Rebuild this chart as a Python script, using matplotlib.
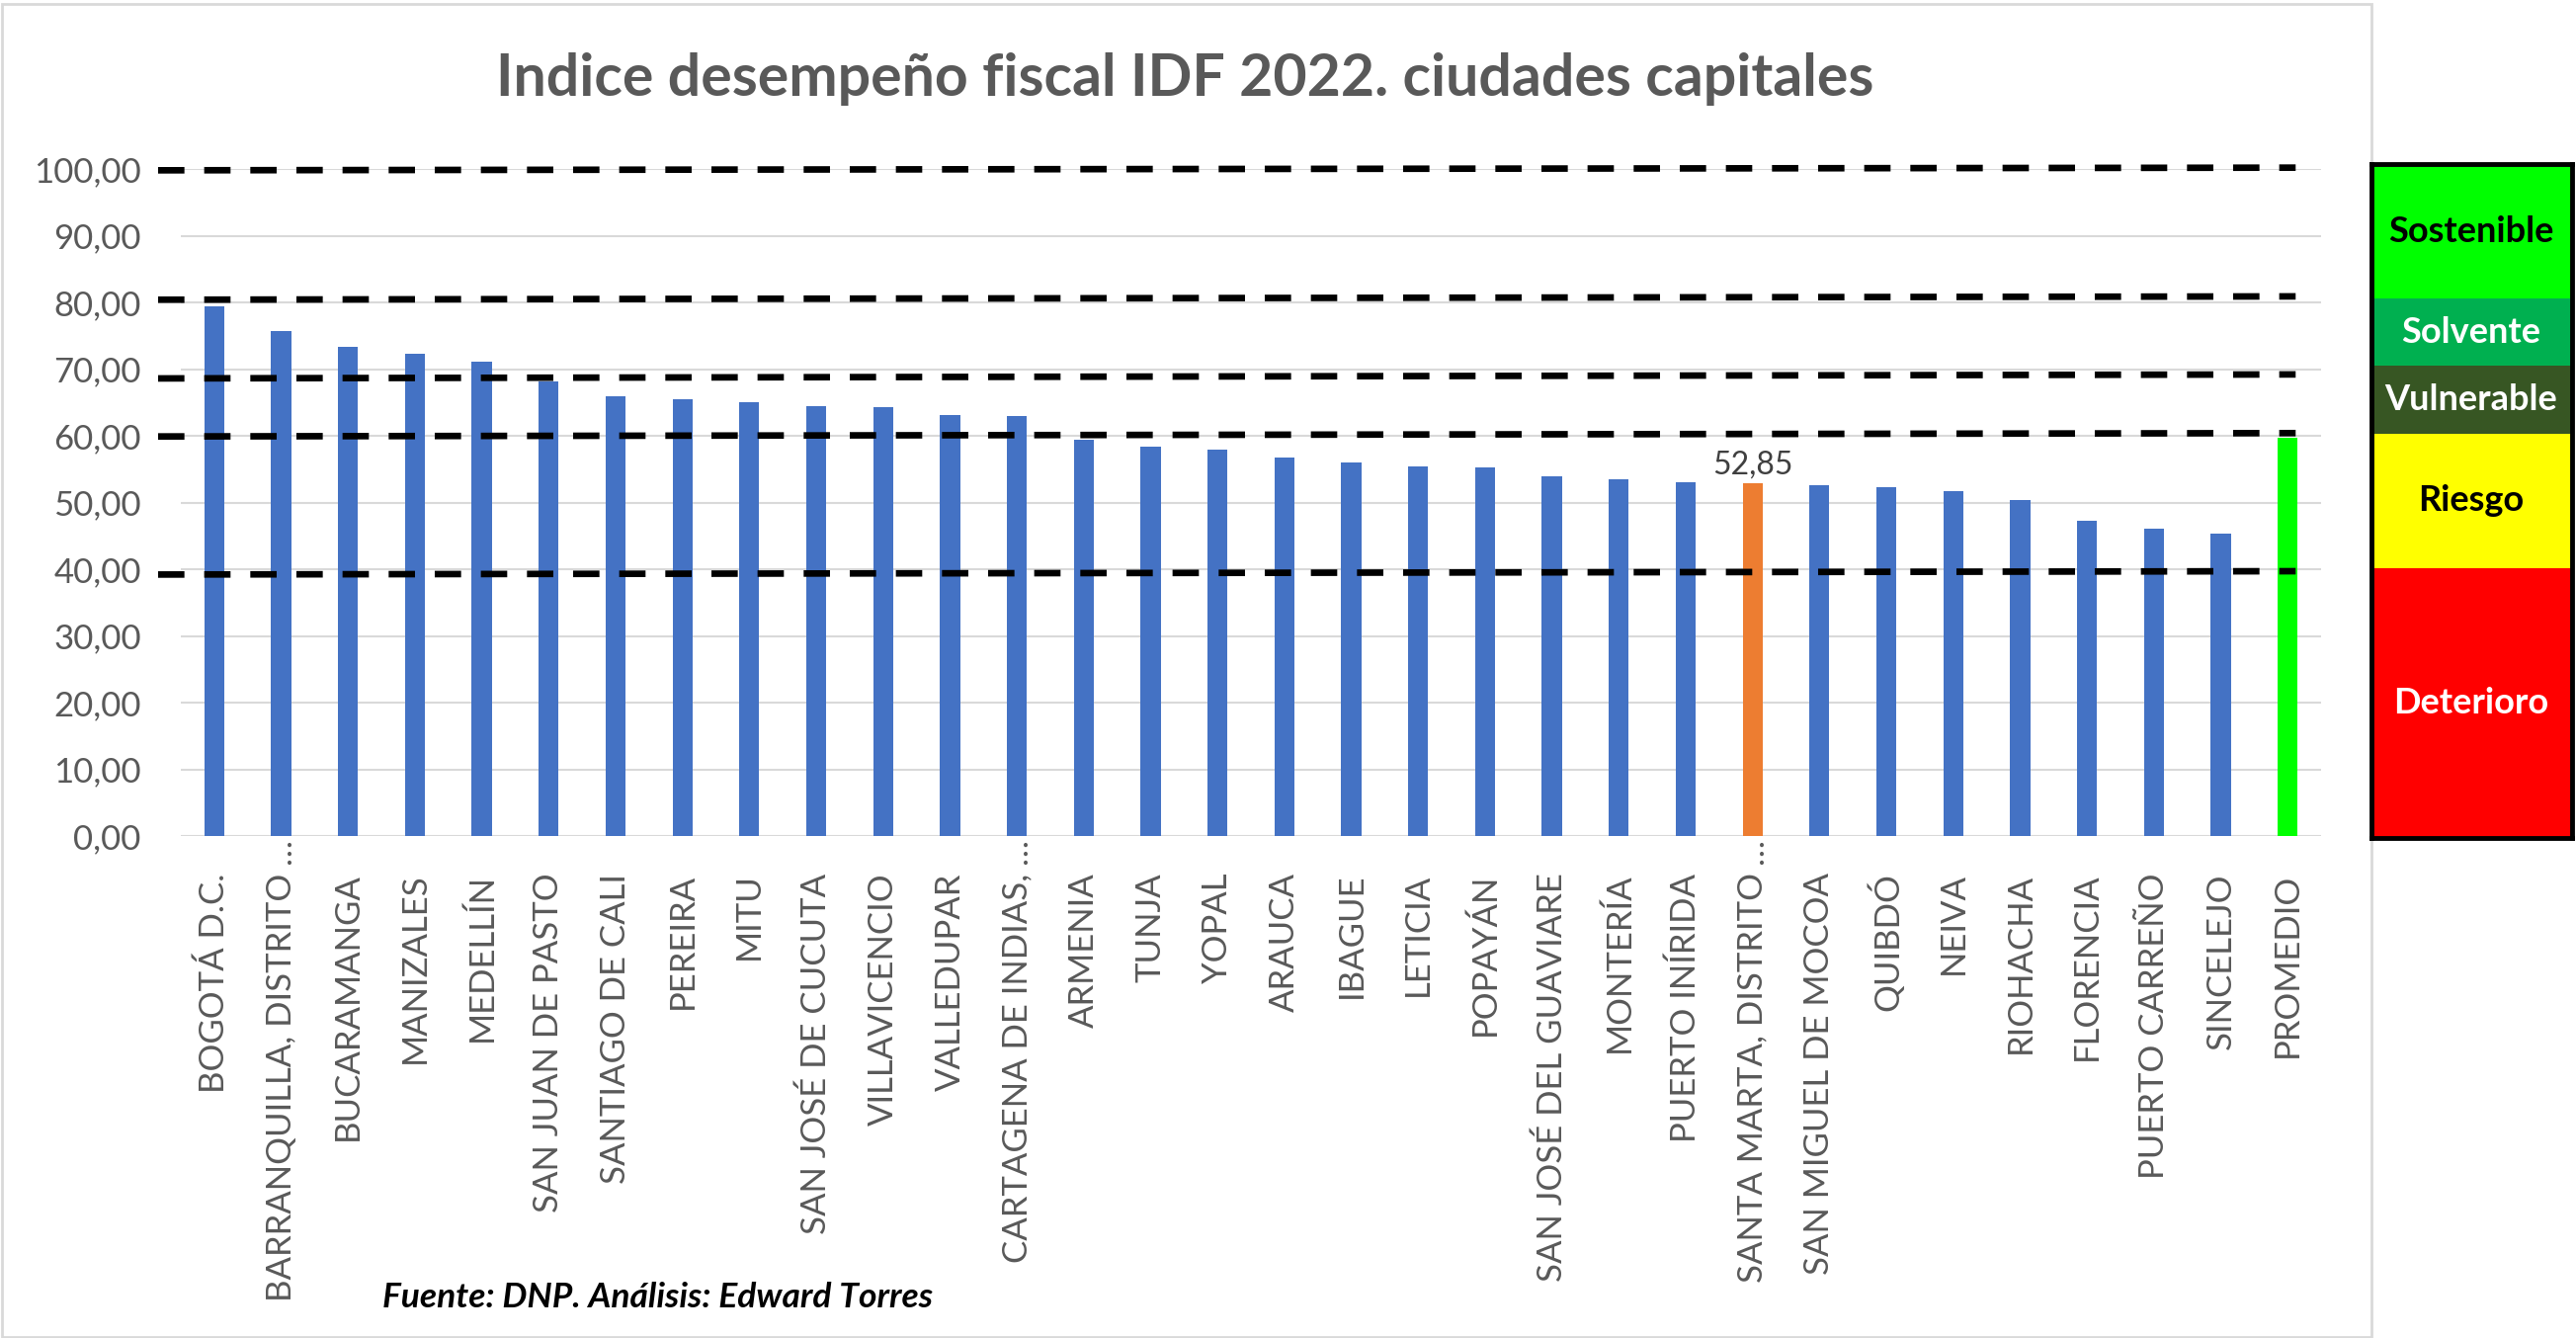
import matplotlib.pyplot as plt
from matplotlib.patches import Rectangle
from matplotlib.ticker import FuncFormatter
import numpy as np

plt.rcParams['font.family'] = ['Lato', 'DejaVu Sans']

ciudades = ['BOGOTÁ D.C.', 'BARRANQUILLA, DISTRITO…', 'BUCARAMANGA', 'MANIZALES',
            'MEDELLÍN', 'SAN JUAN DE PASTO', 'SANTIAGO DE CALI', 'PEREIRA', 'MITU',
            'SAN JOSÉ DE CUCUTA', 'VILLAVICENCIO', 'VALLEDUPAR', 'CARTAGENA DE INDIAS,…',
            'ARMENIA', 'TUNJA', 'YOPAL', 'ARAUCA', 'IBAGUE', 'LETICIA', 'POPAYÁN',
            'SAN JOSÉ DEL GUAVIARE', 'MONTERÍA', 'PUERTO INÍRIDA', 'SANTA MARTA, DISTRITO…',
            'SAN MIGUEL DE MOCOA', 'QUIBDÓ', 'NEIVA', 'RIOHACHA', 'FLORENCIA',
            'PUERTO CARREÑO', 'SINCELEJO', 'PROMEDIO']
idf = [79.4, 75.7, 73.3, 72.3, 71.1, 68.2, 65.9, 65.5, 65.0, 64.4, 64.3, 63.1, 63.0,
       59.4, 58.4, 57.9, 56.8, 56.0, 55.4, 55.3, 53.9, 53.5, 53.1, 52.85, 52.6, 52.3,
       51.7, 50.4, 47.2, 46.1, 45.4, 59.7]
destacada = 'SANTA MARTA, DISTRITO…'
promedio = 'PROMEDIO'

# lineas de referencia (dibujadas a mano en el original, algo inclinadas)
umbral_izq = [99.8, 80.4, 68.6, 59.9, 39.2]
umbral_der = [100.2, 80.9, 69.2, 60.4, 39.7]

rangos = ['Deterioro', 'Riesgo', 'Vulnerable', 'Solvente', 'Sostenible']
limites = [0, 40, 60, 70, 80, 100]
color_rango = ['#FF0000', '#FFFF00', '#375623', '#00B050', '#00FF00']
texto_rango = ['white', 'black', 'white', 'white', 'black']

GRIS = '#595959'
W, H = 2607, 1354

fig = plt.figure(figsize=(W / 100, H / 100), dpi=100)
fig.add_artist(Rectangle((1.5 / W, 1.5 / H), 2398.5 / W, 1349 / H, transform=fig.transFigure,
                         fill=False, ec='#D9D9D9', lw=2))

ax = fig.add_axes([183 / W, 1 - 846 / H, 2166 / W, 675 / H])
x = np.arange(len(ciudades))
colores = ['#ED7D31' if c == destacada else '#00FF00' if c == promedio else '#4472C4'
           for c in ciudades]
ax.bar(x, idf, width=0.3, color=colores, zorder=2)

ax.set_xlim(-0.5, len(ciudades) - 0.5)
ax.set_ylim(0, 100)
ax.set_yticks(np.arange(0, 101, 10))
ax.yaxis.set_major_formatter(FuncFormatter(lambda v, _: f'{v:.2f}'.replace('.', ',')))
ax.grid(axis='y', color='#D9D9D9', lw=1.5, zorder=0)
for s in ax.spines.values():
    s.set_visible(False)
ax.tick_params(axis='both', length=0, colors=GRIS, labelsize=25)
ax.tick_params(axis='y', pad=29)
ax.tick_params(axis='x', pad=27)
ax.set_xticks(x)
ax.set_xticklabels([c.rstrip('…') for c in ciudades], rotation=90, ha='center', va='top')
for i, c in enumerate(ciudades):
    if c.endswith('…'):
        ax.annotate('…', (i, 0), xytext=(0, -2), textcoords='offset points', rotation=90,
                    ha='center', va='top', color=GRIS, fontsize=25)

i = ciudades.index(destacada)
ax.annotate(f'{idf[i]:.2f}'.replace('.', ','), (i, idf[i]), xytext=(0, 3),
            textcoords='offset points', ha='center', va='bottom', fontsize=23, color='#404040')

for yl, yr in zip(umbral_izq, umbral_der):
    ax.plot([-0.84, 31.12], [yl, yr], color='black', lw=4.8, dashes=(4.0, 3.0),
            solid_capstyle='butt', dash_capstyle='butt', clip_on=False, zorder=3)

fig.text(1199 / W, 1 - 97 / H, 'Indice desempeño fiscal IDF 2022. ciudades capitales',
         ha='center', va='baseline', fontsize=42.5, fontweight='bold', color=GRIS)
fig.text(387 / W, 1 - 1323 / H, 'Fuente: DNP. Análisis: Edward Torres', ha='left',
         va='baseline', fontsize=25.5, fontweight='bold', fontstyle='italic', color='black')

# cuadro de rangos del IDF
lg = fig.add_axes([2399.5 / W, 1 - 847.5 / H, 203 / W, 681.5 / H], zorder=5)
for k, nombre in enumerate(rangos):
    lg.axhspan(limites[k], limites[k + 1], color=color_rango[k], lw=0)
    lg.text(0.5, (limites[k] + limites[k + 1]) / 2, nombre, ha='center', va='center',
            fontsize=26, fontweight='bold', color=texto_rango[k])
lg.set_xlim(0, 1)
lg.set_ylim(0, 100)
lg.set_xticks([])
lg.set_yticks([])
for s in lg.spines.values():
    s.set_color('black')
    s.set_linewidth(3.5)

fig.savefig('out.png', dpi=100)
